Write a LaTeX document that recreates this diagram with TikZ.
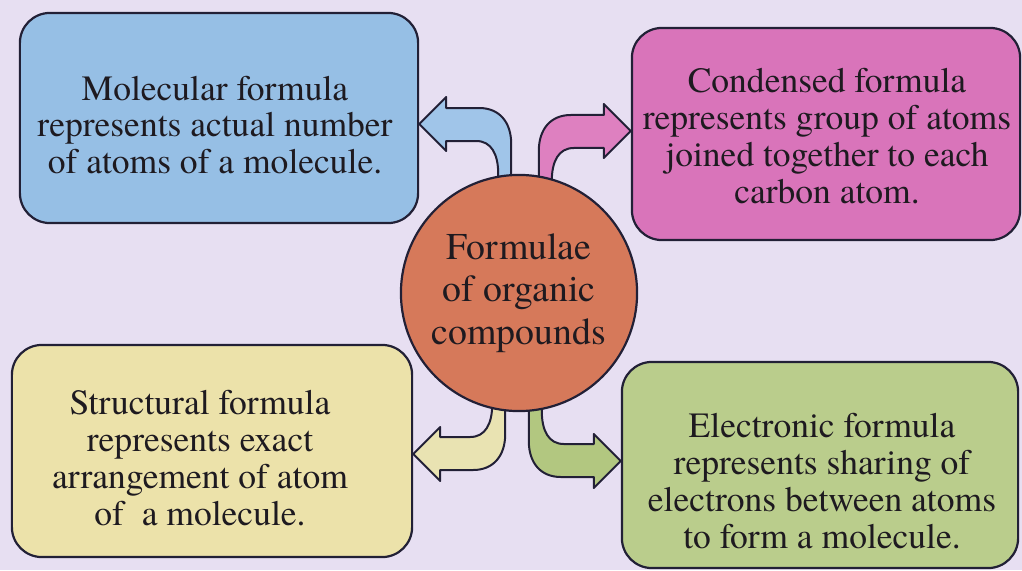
\documentclass[tikz,border=0pt]{standalone}
\usepackage{fontspec}
\IfFontExistsTF{texgyretermes-regular.otf}
  {\setmainfont{texgyretermes-regular.otf}}
  {\setmainfont{Liberation Serif}}
\usepackage{tikz}
\usetikzlibrary{positioning}
\usepackage{xcolor}
\definecolor{pagebg}{RGB}{231,223,242}
\definecolor{outline}{RGB}{34,32,54}
\definecolor{inkcol}{RGB}{30,26,32}
\definecolor{molecfill}{RGB}{150,191,229}
\definecolor{molecarr}{RGB}{160,197,233}
\definecolor{condfill}{RGB}{217,116,186}
\definecolor{condarr}{RGB}{222,128,192}
\definecolor{structfill}{RGB}{236,226,170}
\definecolor{structarr}{RGB}{233,227,178}
\definecolor{elecfill}{RGB}{186,205,140}
\definecolor{elecarr}{RGB}{178,199,128}
\definecolor{formfill}{RGB}{214,121,90}

\tikzset{
  bentarrow/.pic={
    \path[pic actions] (0,0) -- (27,-27) -- (27,-16) -- (60,-16)
      .. controls (80,-16) and (92,-2) .. (92,20) -- (92,80) -- (79,80) -- (79,50)
      .. controls (79,30) and (72,17) .. (57,17) -- (27,17) -- (27,27) -- cycle;
  }
}

\begin{document}
\begin{tikzpicture}[x=0.01cm,y=-0.01cm,line join=round,
  formbox/.style={draw=outline,line width=0.022cm,rounded corners=0.3cm,inner sep=0pt},
  boxtext/.style={align=center,text=inkcol,inner sep=0pt,font=\fontsize{10.1}{10.5}\selectfont},
  arrowline/.style={draw=outline,line width=0.02cm}]
\fill[pagebg] (0,0) rectangle (1022,570);
\useasboundingbox (0,0) rectangle (1022,570);
\node[formbox,fill=molecfill,minimum width=3.98cm,minimum height=2.10cm] (molec) at (219,118) {};
\node[formbox,fill=condfill,minimum width=3.88cm,minimum height=2.12cm] (cond) at (826,134) {};
\node[formbox,fill=structfill,minimum width=4.00cm,minimum height=2.12cm] (struct) at (212,451) {};
\node[formbox,fill=elecfill,minimum width=3.96cm,minimum height=2.06cm] (elec) at (820,465) {};
\node[boxtext] (molectext) at (215,125)
  {Molecular formula\\represents actual number\\of atoms of a molecule.};
\node[boxtext] (condtext) at (827,136)
  {Condensed formula\\represents group of atoms\\joined together to each\\carbon atom.};
\node[boxtext] (structtext) at (200,458)
  {Structural formula\\represents exact\\arrangement of atom\\of~ a molecule.};
\node[boxtext] (electext) at (822,481)
  {Electronic formula\\represents sharing of\\electrons between atoms\\to form a molecule.};
\pic[arrowline,fill=molecarr] at ([yshift=-0.06cm]molec.east) {bentarrow};
\pic[arrowline,fill=condarr,xscale=-1] at ([yshift=0.03cm]cond.west) {bentarrow};
\pic[arrowline,fill=structarr,yscale=-1] at ([yshift=-0.03cm]struct.east) {bentarrow};
\pic[arrowline,fill=elecarr,xscale=-1,yscale=-1] at ([yshift=0.04cm]elec.west) {bentarrow};
\node[circle,draw=outline,line width=0.022cm,fill=formfill,minimum size=2.36cm,inner sep=0pt,
  align=center,text=inkcol,font=\fontsize{10.75}{12.1}\selectfont] (formulae) at (519,293)
  {Formulae\\of organic\\compounds};
\end{tikzpicture}
\end{document}
